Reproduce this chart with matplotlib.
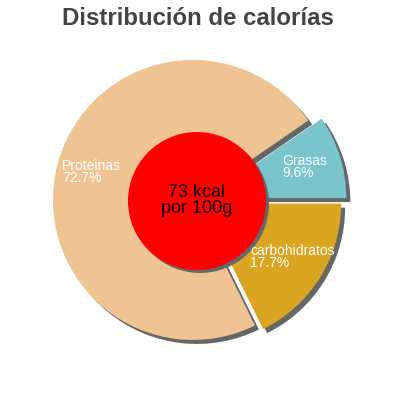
import matplotlib
matplotlib.use("Agg")
import matplotlib.pyplot as plt
from matplotlib.patches import Circle

plt.rcParams['font.family'] = ['Liberation Sans', 'DejaVu Sans']

# data
categories = ["Grasas", "Proteinas", "carbohidratos"]
values = [9.6, 72.7, 17.7]
pct_labels = ["9.6%", "72.7%", "17.7%"]
colors = ["#7ac4cc", "#efc492", "#daa520"]
explode = [0.07, 0.03, 0.035]   # fraction of radius
title = "Distribución de calorías"
center_lines = ["73 kcal", "por 100g"]

# layout (pixel coordinates, y measured from top; y = baseline of last line)
W = H = 400
CX, CY = 197, 201
R = 140
SH = 4  # shadow offset
SHADOW = "#666666"
label_pos = {"Grasas": (282, 177), "Proteinas": (62, 182), "carbohidratos": (250, 267)}

fig = plt.figure(figsize=(4, 4), dpi=100)
ax = fig.add_axes([0, 0, 1, 1])

def Y(y):
    return H - y

expl_px = [e * R for e in explode]

# shadow pie
ax.pie(values, explode=expl_px, colors=[SHADOW] * len(values), startangle=0,
       radius=R, center=(CX + SH, Y(CY) - SH), wedgeprops=dict(linewidth=0),
       frame=True)
# main pie
ax.pie(values, explode=expl_px, colors=colors, startangle=0,
       radius=R, center=(CX, Y(CY)), wedgeprops=dict(linewidth=0), frame=True)
ax.set_xlim(0, W)
ax.set_ylim(0, H)
ax.set_aspect('equal')
ax.axis('off')

# center circle with shadow
r_in = 69
ax.add_patch(Circle((CX + 3, Y(CY) - 3), r_in, color=SHADOW, lw=0, zorder=5))
ax.add_patch(Circle((CX, Y(CY)), r_in, color="#ff0000", lw=0, zorder=6))
ax.text(CX, Y(213), "\n".join(center_lines), ha='center', va='baseline',
        fontsize=13, color='black', linespacing=0.95, zorder=7)

for cat, pct in zip(categories, pct_labels):
    x, b2 = label_pos[cat]
    ax.text(x, Y(b2), cat + "\n" + pct, ha='left', va='baseline', fontsize=10,
            color='white', linespacing=0.8, zorder=8)

ax.text(198, Y(25), title, ha='center', va='baseline', fontsize=17.3,
        fontweight='bold', color='#444444')

fig.savefig("out.png", dpi=100)
